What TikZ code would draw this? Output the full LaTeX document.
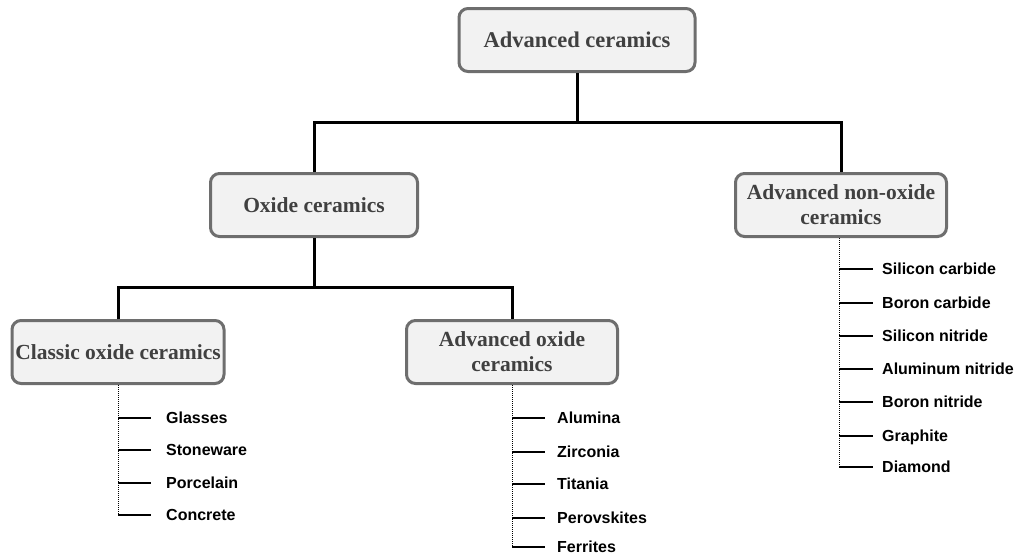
\documentclass[tikz,border=0pt]{standalone}
\usepackage{fontspec}
\setmainfont{Liberation Serif}
\newfontfamily\leaffont{Liberation Sans}
\definecolor{boxfill}{HTML}{F2F2F2}
\definecolor{boxline}{HTML}{6E6E6E}
\definecolor{boxtext}{HTML}{404040}
\begin{document}
\begin{tikzpicture}[x=1pt,y=-1pt]
\tikzstyle{catbox}=[draw=boxline, line width=3pt, fill=boxfill, rounded corners=9pt, text=boxtext, font=\fontsize{21.5}{25}\selectfont\bfseries, align=center, minimum height=63pt, inner sep=0pt]
\tikzstyle{leaf}=[anchor=west, font=\leaffont\fontsize{16}{19}\selectfont\bfseries, inner sep=0pt, text height=11.5pt, text depth=0pt]
\tikzstyle{trunk}=[black, line width=3pt]
\tikzstyle{twig}=[black, line width=1.5pt]
\tikzstyle{stem}=[black, line width=1pt, densely dotted]
\useasboundingbox (0,0) rectangle (1019,557);
% category boxes
\node[catbox, minimum width=236pt, font=\fontsize{22.5}{26}\selectfont\bfseries] (adv) at (577,40) {Advanced ceramics};
\node[catbox, minimum width=207pt] (oxide) at (314,205) {Oxide ceramics};
\node[catbox, minimum width=211pt] (nonoxide) at (841,205) {Advanced non-oxide\\ceramics};
\node[catbox, minimum width=212pt] (classic) at (118,352) {Classic oxide ceramics};
\node[catbox, minimum width=211pt] (advoxide) at (512,352) {Advanced oxide\\ceramics};
% tree
\coordinate (j1) at (577,122);
\coordinate (j2) at (314,287);
\draw[trunk] (adv.south) -- (j1);
\draw[trunk] (oxide.north) |- (j1) -| (nonoxide.north);
\draw[trunk] (oxide.south) -- (j2);
\draw[trunk] (classic.north) |- (j2) -| (advoxide.north);
% classic oxide ceramics
\node[leaf] (glasses) at (166,418) {Glasses};
\node[leaf] (stoneware) at (166,450) {Stoneware};
\node[leaf] (porcelain) at (166,483) {Porcelain};
\node[leaf] (concrete) at (166,515) {Concrete};
\draw[stem] (classic.south) -- (classic.south |- concrete.west);
\draw[twig] (classic.south |- glasses.west) -- ([xshift=-15pt]glasses.west);
\draw[twig] (classic.south |- stoneware.west) -- ([xshift=-15pt]stoneware.west);
\draw[twig] (classic.south |- porcelain.west) -- ([xshift=-15pt]porcelain.west);
\draw[twig] (classic.south |- concrete.west) -- ([xshift=-15pt]concrete.west);
% advanced oxide ceramics
\node[leaf] (alumina) at (557,418) {Alumina};
\node[leaf] (zirconia) at (557,452) {Zirconia};
\node[leaf] (titania) at (557,484) {Titania};
\node[leaf] (perovskites) at (557,518) {Perovskites};
\node[leaf] (ferrites) at (557,547) {Ferrites};
\draw[stem] (advoxide.south) -- (advoxide.south |- ferrites.west);
\draw[twig] (advoxide.south |- alumina.west) -- ([xshift=-12pt]alumina.west);
\draw[twig] (advoxide.south |- zirconia.west) -- ([xshift=-12pt]zirconia.west);
\draw[twig] (advoxide.south |- titania.west) -- ([xshift=-12pt]titania.west);
\draw[twig] (advoxide.south |- perovskites.west) -- ([xshift=-12pt]perovskites.west);
\draw[twig] (advoxide.south |- ferrites.west) -- ([xshift=-12pt]ferrites.west);
% advanced non-oxide ceramics
\node[leaf] (sic) at (882,269) {Silicon carbide};
\node[leaf] (bc) at (882,303) {Boron carbide};
\node[leaf] (sin) at (882,336) {Silicon nitride};
\node[leaf] (aln) at (882,369) {Aluminum nitride};
\node[leaf] (bn) at (882,402) {Boron nitride};
\node[leaf] (graphite) at (882,436) {Graphite};
\node[leaf] (diamond) at (882,467) {Diamond};
\draw[stem] ([xshift=-2pt]nonoxide.south) -- ([xshift=-2pt]nonoxide.south |- diamond.west);
\draw[twig] ([xshift=-2pt]nonoxide.south |- sic.west) -- ([xshift=-9pt]sic.west);
\draw[twig] ([xshift=-2pt]nonoxide.south |- bc.west) -- ([xshift=-9pt]bc.west);
\draw[twig] ([xshift=-2pt]nonoxide.south |- sin.west) -- ([xshift=-9pt]sin.west);
\draw[twig] ([xshift=-2pt]nonoxide.south |- aln.west) -- ([xshift=-9pt]aln.west);
\draw[twig] ([xshift=-2pt]nonoxide.south |- bn.west) -- ([xshift=-9pt]bn.west);
\draw[twig] ([xshift=-2pt]nonoxide.south |- graphite.west) -- ([xshift=-9pt]graphite.west);
\draw[twig] ([xshift=-2pt]nonoxide.south |- diamond.west) -- ([xshift=-9pt]diamond.west);
\end{tikzpicture}
\end{document}
